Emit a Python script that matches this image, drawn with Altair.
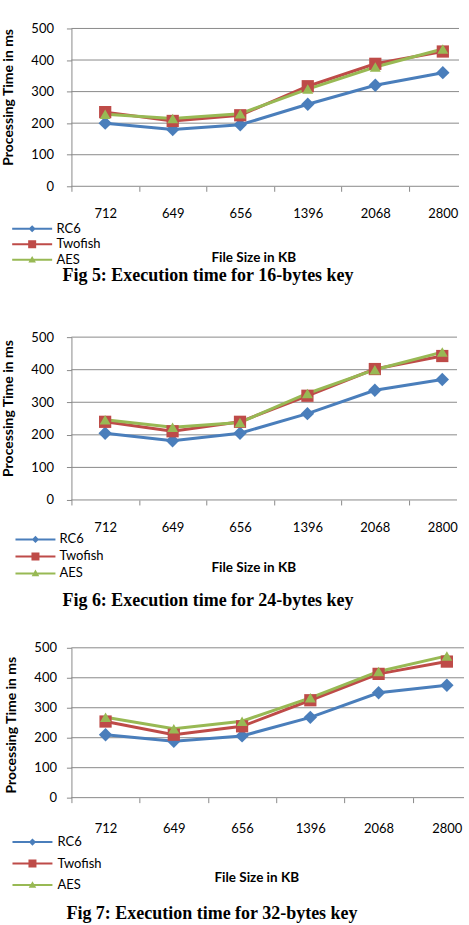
import altair as alt
import pandas as pd

# File sizes (KB) in the order they were measured
file_sizes = ["712", "649", "656", "1396", "2068", "2800"]
algorithms = ["RC6", "Twofish", "AES"]

# Processing time (ms), 16-byte key
rc6_16 = [200, 180, 195, 260, 320, 360]
twofish_16 = [235, 207, 225, 317, 388, 427]
aes_16 = [228, 215, 230, 308, 378, 435]

# Processing time (ms), 24-byte key
rc6_24 = [205, 182, 205, 265, 337, 370]
twofish_24 = [240, 211, 240, 320, 402, 442]
aes_24 = [246, 223, 238, 327, 400, 454]

# Processing time (ms), 32-byte key
rc6_32 = [210, 188, 206, 268, 350, 375]
twofish_32 = [254, 210, 238, 325, 413, 454]
aes_32 = [268, 230, 255, 333, 421, 473]

captions = [
    "Fig 5: Execution time for 16-bytes key",
    "Fig 6: Execution time for 24-bytes key",
    "Fig 7: Execution time for 32-bytes key",
]

y_ticks = [0, 100, 200, 300, 400, 500]

SERIES_COLORS = ["#4a7ebb", "#be4b48", "#98b954"]
MARKERS = ["diamond", "square", "triangle-up"]
MARKER_SIZES = [180, 120, 160]
GRID = "#8a8a8a"
FONT = "Lato"

# Legend keys: a short bar with the series marker on it (unit = sqrt(size)/2 px)
BAR = "M-5,-0.25H5V0.25H-5Z "
LEGEND_KEYS = [
    BAR + "M0,-0.9L0.9,0L0,0.9L-0.9,0Z",
    BAR + "M-1,-1H1V1H-1Z",
    BAR + "M0,-0.95L0.95,0.7L-0.95,0.7Z",
]


def make_table(series):
    rows = []
    for alg, values in zip(algorithms, series):
        for i, (size, t) in enumerate(zip(file_sizes, values)):
            rows.append({"size": size, "idx": i, "algorithm": alg, "time": t})
    return pd.DataFrame(rows)


def panel(series, caption, g):
    df = make_table(series)
    half_band = g["span"] / len(file_sizes) / 2
    y_scale = alt.Scale(domain=[0, 500], nice=False, zero=True)

    x = alt.X(
        "size:N",
        sort=file_sizes,
        bandPosition=0.5,
        scale=alt.Scale(type="band", domain=file_sizes, range=[0, g["span"]],
                        paddingInner=0, paddingOuter=0),
        axis=alt.Axis(
            title="File Size in KB",
            domain=False,
            tickSize=5,
            tickColor=GRID,
            tickOffset=-half_band,   # ticks on category boundaries
            labelOffset=half_band,   # labels back on category centres
            labelAngle=0,
            labelPadding=g["xlab_pad"],
            labelFontSize=13,
            titleX=g["xtitle_x"],
            titleY=g["xtitle_y"],
            titleAlign="center",
            titleBaseline="middle",
            titleFontSize=13.5,
            titleFontWeight="bold",
        ),
    )
    y_axis = alt.Axis(
        title="Processing Time in ms",
        values=y_ticks,
        grid=False,
        domainColor=GRID,
        tickColor=GRID,
        tickSize=5,
        labelPadding=g["ylab_pad"],
        labelFontSize=13,
        titleX=g["ytitle_x"],
        titleY=g["ytitle_y"],
        titleAngle=270,
        titleAlign="center",
        titleBaseline="middle",
        titleFontSize=14,
        titleFontWeight="bold",
    )
    y = alt.Y("time:Q", scale=y_scale, axis=y_axis)
    color_scale = alt.Scale(domain=algorithms, range=SERIES_COLORS)

    # horizontal gridlines across the plot area (the 0 line doubles as the x baseline)
    grid = (
        alt.Chart(pd.DataFrame({"tick": y_ticks}))
        .mark_rule(color=GRID, strokeWidth=1)
        .encode(y=alt.Y("tick:Q", scale=y_scale, axis=y_axis),
                x=alt.value(0), x2=alt.value(g["width"]))
    )

    base = alt.Chart(df).encode(x=x, y=y, order=alt.Order("idx:Q"))

    lines = base.mark_line(strokeWidth=3).encode(
        color=alt.Color("algorithm:N", scale=color_scale, legend=None)
    )
    points = base.mark_point(filled=True, opacity=1).encode(
        color=alt.Color("algorithm:N", scale=color_scale, legend=None),
        shape=alt.Shape("algorithm:N", scale=alt.Scale(domain=algorithms, range=MARKERS),
                        legend=None),
        size=alt.Size("algorithm:N", scale=alt.Scale(domain=algorithms, range=MARKER_SIZES),
                      legend=None),
    )
    legend = alt.Legend(
        title=None,
        orient="none",
        legendX=g["leg_x"],
        legendY=g["leg_y"],
        direction="vertical",
        padding=0,
        symbolSize=64,
        symbolStrokeWidth=0,
        symbolOpacity=1,
        labelFont=FONT,
        labelFontSize=13,
        labelColor="black",
        labelOffset=g["leg_label_off"],
        rowPadding=g["leg_row_pad"],
    )
    keys = base.mark_point(filled=True, opacity=0).encode(
        color=alt.Color("algorithm:N", scale=color_scale, legend=legend),
        shape=alt.Shape("algorithm:N",
                        scale=alt.Scale(domain=algorithms, range=LEGEND_KEYS),
                        legend=legend),
    )

    return (
        alt.layer(grid, lines, points, keys)
        .resolve_scale(color="independent", shape="independent", size="independent")
        .properties(
            width=g["width"],
            height=g["height"],
            title=alt.TitleParams(
                caption,
                orient="bottom",
                anchor="start",
                frame="group",
                dx=g["cap_dx"],
                offset=g["cap_off"],
            ),
        )
    )


geoms = [
    dict(width=388, height=158, span=405.6, xlab_pad=16.5, xtitle_x=182, xtitle_y=71,
         ylab_pad=13, ytitle_x=-63, ytitle_y=68.5, leg_x=-45.8, leg_y=194,
         leg_label_off=17.8, leg_row_pad=1.5, cap_dx=-9, cap_off=0),
    dict(width=386, height=163, span=405, xlab_pad=17, xtitle_x=182, xtitle_y=67.5,
         ylab_pad=13, ytitle_x=-63, ytitle_y=71, leg_x=-42.5, leg_y=196,
         leg_label_off=17.5, leg_row_pad=3, cap_dx=-9, cap_off=11),
    dict(width=393, height=150, span=410, xlab_pad=19.5, xtitle_x=185, xtitle_y=79.5,
         ylab_pad=10, ytitle_x=-59.5, ytitle_y=77, leg_x=-45.5, leg_y=188,
         leg_label_off=18.5, leg_row_pad=7.5, cap_dx=-5, cap_off=12),
]

all_series = [
    [rc6_16, twofish_16, aes_16],
    [rc6_24, twofish_24, aes_24],
    [rc6_32, twofish_32, aes_32],
]

p1, p2, p3 = [panel(s, c, g) for s, c, g in zip(all_series, captions, geoms)]

independent = dict(color="independent", shape="independent", size="independent")
lower = alt.vconcat(p2, p3, spacing=32).resolve_scale(**independent)

chart = (
    alt.vconcat(p1, lower, spacing=46)
    .resolve_scale(**independent)
    .properties(padding={"left": 1.5, "top": 22, "right": -12, "bottom": 0}, background="white")
    .configure_view(stroke=None)
    .configure_axis(labelFont=FONT, titleFont=FONT, labelColor="black", titleColor="black")
    .configure_title(font="Liberation Serif", fontSize=18, fontWeight="bold", color="black")
)

chart.save("out.html", embed_options={"renderer": "svg", "actions": False})
